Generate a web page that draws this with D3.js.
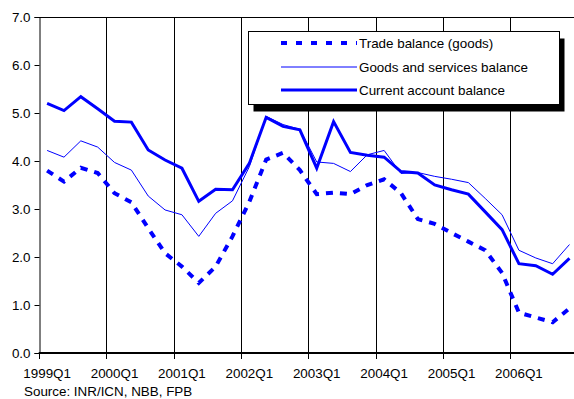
<!DOCTYPE html>
<html>
<head>
<meta charset="utf-8">
<script src="https://cdn.jsdelivr.net/npm/d3@7"></script>
<style>
    body { margin: 0; background: #fff; }
    svg { display: block; font-family: "Liberation Sans", Arial, sans-serif; }
</style>
</head>
<body>
<div id="chart"></div>
<script>
var quarters = [
    "1999Q1", "1999Q2", "1999Q3", "1999Q4",
    "2000Q1", "2000Q2", "2000Q3", "2000Q4",
    "2001Q1", "2001Q2", "2001Q3", "2001Q4",
    "2002Q1", "2002Q2", "2002Q3", "2002Q4",
    "2003Q1", "2003Q2", "2003Q3", "2003Q4",
    "2004Q1", "2004Q2", "2004Q3", "2004Q4",
    "2005Q1", "2005Q2", "2005Q3", "2005Q4",
    "2006Q1", "2006Q2", "2006Q3", "2006Q4"
];

var tradeBalance = [
    3.80, 3.57, 3.86, 3.75, 3.33, 3.14, 2.60, 2.08,
    1.80, 1.46, 1.80, 2.43, 3.15, 4.03, 4.17, 3.81,
    3.31, 3.34, 3.31, 3.50, 3.62, 3.33, 2.79, 2.69,
    2.50, 2.32, 2.14, 1.67, 0.84, 0.74, 0.64, 0.93
];

var goodsServices = [
    4.22, 4.08, 4.42, 4.29, 3.97, 3.81, 3.27, 2.98,
    2.88, 2.43, 2.91, 3.17, 3.88, 4.93, 4.76, 4.66,
    3.98, 3.95, 3.78, 4.13, 4.22, 3.74, 3.76, 3.68,
    3.62, 3.55, 3.22, 2.88, 2.14, 1.98, 1.86, 2.26
];

var currentAccount = [
    5.20, 5.05, 5.34, 5.09, 4.83, 4.81, 4.23, 4.02,
    3.85, 3.16, 3.41, 3.40, 3.95, 4.91, 4.72, 4.65,
    3.85, 4.82, 4.18, 4.12, 4.08, 3.78, 3.75, 3.50,
    3.40, 3.31, 2.94, 2.57, 1.86, 1.82, 1.64, 1.97
];

var yTicks = [0, 1, 2, 3, 4, 5, 6, 7];

var legendLabels = ["Trade balance (goods)", "Goods and services balance", "Current account balance"];

var width = 574,
    height = 399,
    fontSize = "13.4px";

var svg = d3.select("#chart")
    .append("svg")
    .attr("width", width)
    .attr("height", height);

// the plot area runs a bit past the right edge of the picture, like the original
var x = d3.scaleBand()
    .domain(quarters)
    .range([38.7, 577.9])
    .padding(0);

var y = d3.scaleLinear()
    .domain([0, 7])
    .range([353, 17]);

var mid = function (q) { return x(q) + x.bandwidth() / 2; };

// year gridlines
var yearStarts = quarters.filter(function (q) { return q.slice(4) == "Q1"; });

svg.selectAll("line.grid")
    .data(yearStarts.slice(1))
    .enter()
    .append("line")
    .attr("class", "grid")
    .attr("x1", function (d) { return Math.round(x(d)) + 0.5; })
    .attr("x2", function (d) { return Math.round(x(d)) + 0.5; })
    .attr("y1", y(7))
    .attr("y2", y(0))
    .attr("stroke", "#000")
    .attr("stroke-width", 1);

// top border
svg.append("line")
    .attr("x1", x.range()[0])
    .attr("x2", width)
    .attr("y1", Math.round(y(7)) + 0.5)
    .attr("y2", Math.round(y(7)) + 0.5)
    .attr("stroke", "#000");

// y axis
var yAxis = svg.append("g")
    .attr("transform", "translate(" + (Math.round(x.range()[0]) + 0.5) + ",0)")
    .call(d3.axisLeft(y).tickValues(yTicks).tickSize(5).tickPadding(4).tickFormat(d3.format(".1f")));
yAxis.select(".domain").attr("stroke", "#000");
yAxis.selectAll(".tick line").attr("stroke", "#000");
yAxis.selectAll(".tick text")
    .attr("fill", "#000")
    .style("font-size", fontSize)
    .style("font-family", "Liberation Sans, Arial, sans-serif");

// x axis
var xAxis = svg.append("g")
    .attr("transform", "translate(0," + y(0) + ")");

xAxis.append("line")
    .attr("x1", x.range()[0])
    .attr("x2", width)
    .attr("y1", 0)
    .attr("y2", 0)
    .attr("stroke", "#000")
    .attr("stroke-width", 2.2);

xAxis.selectAll("line.tick")
    .data(yearStarts)
    .enter()
    .append("line")
    .attr("class", "tick")
    .attr("x1", function (d) { return Math.round(x(d)) + 0.5; })
    .attr("x2", function (d) { return Math.round(x(d)) + 0.5; })
    .attr("y1", 0)
    .attr("y2", 6)
    .attr("stroke", "#000");

xAxis.selectAll("text")
    .data(yearStarts)
    .enter()
    .append("text")
    .attr("x", function (d) { return mid(d); })
    .attr("y", 25)
    .attr("text-anchor", "middle")
    .style("font-size", fontSize)
    .text(function (d) { return d; });

// series
var line = function (values) {
    return d3.line()
        .x(function (d, i) { return mid(quarters[i]); })
        .y(function (d) { return y(d); })(values);
};

svg.append("path")
    .attr("d", line(goodsServices))
    .attr("fill", "none")
    .attr("stroke", "#0000ff")
    .attr("stroke-width", 1);

svg.append("path")
    .attr("d", line(tradeBalance))
    .attr("fill", "none")
    .attr("stroke", "#0000ff")
    .attr("stroke-width", 4)
    .attr("stroke-dasharray", "7,7");

svg.append("path")
    .attr("d", line(currentAccount))
    .attr("fill", "none")
    .attr("stroke", "#0000ff")
    .attr("stroke-width", 3);

// legend
var legend = svg.append("g");

legend.append("rect")
    .attr("x", 253.5)
    .attr("y", 38.5)
    .attr("width", 311)
    .attr("height", 73)
    .attr("fill", "#000");

legend.append("rect")
    .attr("x", 248.5)
    .attr("y", 31.5)
    .attr("width", 311)
    .attr("height", 73)
    .attr("fill", "#fff")
    .attr("stroke", "#000");

var legendStyles = [
    { width: 4, dash: "6,9" },
    { width: 1, dash: null },
    { width: 3, dash: null }
];
var legendRows = [43, 67, 90];

legendLabels.forEach(function (label, i) {
    legend.append("line")
        .attr("x1", 281)
        .attr("x2", 357)
        .attr("y1", legendRows[i])
        .attr("y2", legendRows[i])
        .attr("stroke", "#0000ff")
        .attr("stroke-width", legendStyles[i].width)
        .attr("stroke-dasharray", legendStyles[i].dash);
    legend.append("text")
        .attr("x", 359)
        .attr("y", legendRows[i] + 5)
        .style("font-size", fontSize)
        .text(label);
});

svg.append("text")
    .attr("x", 24)
    .attr("y", 396)
    .style("font-size", fontSize)
    .text("Source: INR/ICN, NBB, FPB");
</script>
</body>
</html>
